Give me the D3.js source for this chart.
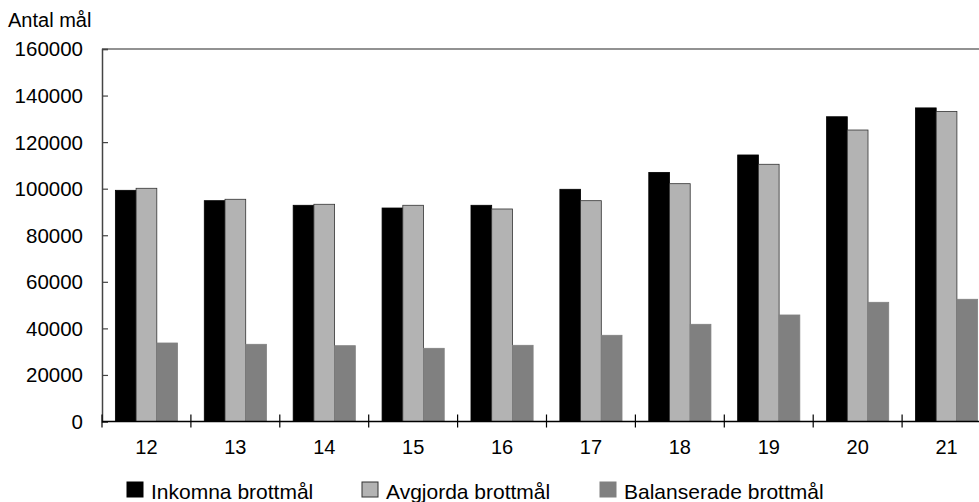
<!DOCTYPE html>
<html>
<head>
<meta charset="utf-8">
<script src="https://cdn.jsdelivr.net/npm/d3@7"></script>
<style>
  html, body { margin: 0; padding: 0; background: #fff; }
  svg { display: block; font-family: "Liberation Sans", Arial, sans-serif; }
</style>
</head>
<body>
<svg id="chart" width="979" height="502"></svg>
<script>
// Years (two-digit) on the x axis
const years = ["12", "13", "14", "15", "16", "17", "18", "19", "20", "21"];
// Incoming criminal cases
const inkomna = [99300, 94850, 92870, 91700, 92870, 99740, 107000, 114480, 130900, 134700];
// Decided criminal cases
const avgjorda = [100170, 95450, 93300, 92870, 91280, 94850, 102150, 110480, 125200, 133200];
// Pending (balanced) criminal cases
const balanserade = [33720, 33160, 32560, 31440, 32730, 37030, 41750, 45750, 51200, 52500];
const yTicks = [0, 20000, 40000, 60000, 80000, 100000, 120000, 140000, 160000];
const seriesNames = ["Inkomna brottmål", "Avgjorda brottmål", "Balanserade brottmål"];

const seriesValues = [inkomna, avgjorda, balanserade];
const fills = ["#000000", "#b3b3b3", "#808080"];
const strokes = ["#000000", "#333333", "#808080"];

const svg = d3.select("#chart");
const plotLeft = 102, plotRight = 991, plotTop = 49, plotBottom = 421.5;

const x = d3.scaleBand().domain(years).range([plotLeft, plotRight]).paddingInner(0).paddingOuter(0);
const y = d3.scaleLinear().domain([0, 160000]).range([plotBottom, plotTop]);
const barW = x.bandwidth() * 0.233;
const groupOffset = (x.bandwidth() - 3 * barW) / 2;

// Bars
seriesValues.forEach((vals, s) => {
  svg.append("g").selectAll("rect")
    .data(vals.map((v, i) => ({ year: years[i], v })))
    .join("rect")
    .attr("x", d => x(d.year) + groupOffset + s * barW)
    .attr("y", d => y(d.v))
    .attr("width", barW)
    .attr("height", d => y(0) - y(d.v))
    .attr("fill", fills[s])
    .attr("stroke", strokes[s])
    .attr("stroke-width", 0.8);
});

// Top frame line
svg.append("line")
  .attr("x1", plotLeft).attr("x2", 979)
  .attr("y1", plotTop).attr("y2", plotTop)
  .attr("stroke", "#6e6e6e").attr("stroke-width", 1.5);

// Y axis (ticks point inward)
const yAxis = svg.append("g")
  .attr("transform", `translate(${plotLeft},0)`)
  .call(d3.axisRight(y).tickValues(yTicks).tickSize(6).tickFormat(""));
yAxis.select(".domain").attr("stroke", "#444").attr("stroke-width", 1.5);
yAxis.selectAll(".tick line").attr("stroke", "#444").attr("stroke-width", 1.2);

svg.append("g").selectAll("text")
  .data(yTicks)
  .join("text")
  .attr("x", 83)
  .attr("y", d => y(d))
  .attr("dy", "0.36em")
  .attr("text-anchor", "end")
  .attr("font-size", 20.5)
  .attr("fill", "#000")
  .text(d => d);

// X axis with ticks crossing the baseline at category boundaries
svg.append("line")
  .attr("x1", plotLeft).attr("x2", 979)
  .attr("y1", plotBottom).attr("y2", plotBottom)
  .attr("stroke", "#000").attr("stroke-width", 1.5);
svg.append("g").selectAll("line")
  .data(years)
  .join("line")
  .attr("x1", d => x(d)).attr("x2", d => x(d))
  .attr("y1", plotBottom - 7).attr("y2", plotBottom + 6)
  .attr("stroke", "#000").attr("stroke-width", 1.2);
svg.append("g").selectAll("text")
  .data(years)
  .join("text")
  .attr("x", d => x(d) + x.bandwidth() / 2)
  .attr("y", 454)
  .attr("text-anchor", "middle")
  .attr("font-size", 20)
  .text(d => d);

// Axis title
svg.append("text")
  .attr("x", 8).attr("y", 27)
  .attr("font-size", 20)
  .text("Antal mål");

// Legend
const legendX = [127, 362, 600];
const legend = svg.append("g").selectAll("g")
  .data(seriesNames)
  .join("g")
  .attr("transform", (d, i) => `translate(${legendX[i]},482)`);
legend.append("rect")
  .attr("width", 16).attr("height", 15)
  .attr("fill", (d, i) => fills[i])
  .attr("stroke", (d, i) => strokes[i])
  .attr("stroke-width", 1);
legend.append("text")
  .attr("x", 24).attr("y", 16.5)
  .attr("font-size", 21)
  .text(d => d);
</script>
</body>
</html>
